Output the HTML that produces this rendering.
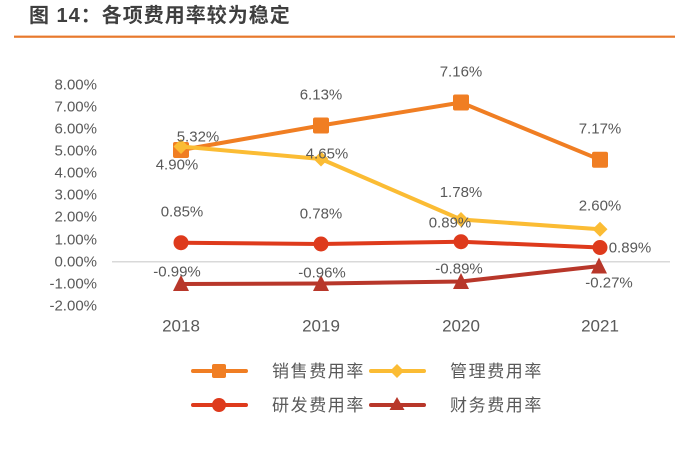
<!DOCTYPE html>
<html>
<head>
<meta charset="utf-8">
<style>
  html,body{margin:0;padding:0;background:#fff;}
  body{width:697px;height:453px;overflow:hidden;}
  svg{display:block;}
  .ax{font-family:"Liberation Sans","Noto Sans CJK SC",sans-serif;font-size:15px;fill:#595959;}
  .cat{font-family:"Liberation Sans","Noto Sans CJK SC",sans-serif;font-size:17px;fill:#595959;}
  .lg{font-family:"Liberation Sans","Noto Sans CJK SC",sans-serif;font-size:17px;fill:#595959;letter-spacing:1.6px;}
  .tt{font-family:"Liberation Sans","Noto Sans CJK SC",sans-serif;font-size:20px;font-weight:bold;fill:#3f3f3f;letter-spacing:1px;}
</style>
</head>
<body>
<svg width="697" height="453" viewBox="0 0 697 453" xmlns="http://www.w3.org/2000/svg">
  <!-- title -->
  <text class="tt" x="29" y="22">图 14：各项费用率较为稳定</text>
  <rect x="14" y="35.6" width="661" height="2.2" fill="#E8792C"/>

  <!-- y axis labels -->
  <g class="ax" text-anchor="end" dominant-baseline="central">
    <text x="97" y="85">8.00%</text>
    <text x="97" y="107">7.00%</text>
    <text x="97" y="129">6.00%</text>
    <text x="97" y="151">5.00%</text>
    <text x="97" y="173">4.00%</text>
    <text x="97" y="195">3.00%</text>
    <text x="97" y="217">2.00%</text>
    <text x="97" y="240">1.00%</text>
    <text x="97" y="262">0.00%</text>
    <text x="97" y="284">-1.00%</text>
    <text x="97" y="306">-2.00%</text>
  </g>

  <!-- zero axis -->
  <line x1="112" y1="261.7" x2="670" y2="261.7" stroke="#D9D9D9" stroke-width="1.5"/>

  <!-- category labels -->
  <g class="cat" text-anchor="middle" dominant-baseline="central">
    <text x="181" y="326">2018</text>
    <text x="321" y="326">2019</text>
    <text x="461" y="326">2020</text>
    <text x="600" y="326">2021</text>
  </g>

  <!-- orange series -->
  <polyline points="181,150 321,125.5 461,102.5 600,159.7" fill="none" stroke="#F07E23" stroke-width="4" stroke-linejoin="round"/>
  <g fill="#F07E23">
    <rect x="173" y="142" width="16" height="16" rx="2"/>
    <rect x="313" y="117.5" width="16" height="16" rx="2"/>
    <rect x="453" y="94.5" width="16" height="16" rx="2"/>
    <rect x="592" y="151.7" width="16" height="16" rx="2"/>
  </g>

  <!-- yellow series -->
  <polyline points="181,146.5 321,159 461,219.5 600,229.3" fill="none" stroke="#FBBC34" stroke-width="4" stroke-linejoin="round"/>
  <g fill="#FBBC34">
    <polygon points="181,139 188.5,146.5 181,154 173.5,146.5"/>
    <polygon points="321,151.5 328.5,159 321,166.5 313.5,159"/>
    <polygon points="461,212 468.5,219.5 461,227 453.5,219.5"/>
    <polygon points="600,221.8 607.5,229.3 600,236.8 592.5,229.3"/>
  </g>

  <!-- red series -->
  <polyline points="181,242.7 321,244 461,241.7 600,247.5" fill="none" stroke="#DE3A1C" stroke-width="4" stroke-linejoin="round"/>
  <g fill="#DE3A1C">
    <circle cx="181" cy="242.7" r="7.5"/>
    <circle cx="321" cy="244" r="7.5"/>
    <circle cx="461" cy="241.7" r="7.5"/>
    <circle cx="600" cy="247.5" r="7.5"/>
  </g>

  <!-- dark red series -->
  <polyline points="181,284 321,283.5 461,281.5 600,266" fill="none" stroke="#B8372A" stroke-width="4" stroke-linejoin="round"/>
  <g fill="#B8372A">
    <polygon points="181,275 189,291 173,291"/>
    <polygon points="321,275 329,291 313,291"/>
    <polygon points="461,273 469,289 453,289"/>
    <polygon points="599,257.5 607,273.5 591,273.5"/>
  </g>

  <!-- data labels -->
  <g class="ax" text-anchor="middle" dominant-baseline="central">
    <text x="177" y="165">4.90%</text>
    <text x="198" y="137">5.32%</text>
    <text x="321" y="95">6.13%</text>
    <text x="327" y="154">4.65%</text>
    <text x="182" y="212">0.85%</text>
    <text x="321" y="214">0.78%</text>
    <text x="177" y="272">-0.99%</text>
    <text x="322" y="273">-0.96%</text>
    <text x="461" y="72">7.16%</text>
    <text x="600" y="129">7.17%</text>
    <text x="461" y="192.5">1.78%</text>
    <text x="600" y="206">2.60%</text>
    <text x="450" y="223">0.89%</text>
    <text x="630" y="248">0.89%</text>
    <text x="459" y="269">-0.89%</text>
    <text x="609" y="283">-0.27%</text>
  </g>

  <!-- legend -->
  <g>
    <line x1="193" y1="371" x2="246" y2="371" stroke="#F07E23" stroke-width="4" stroke-linecap="round"/>
    <rect x="212" y="364" width="14" height="14" rx="2" fill="#F07E23"/>
    <text class="lg" x="272" y="377">销售费用率</text>

    <line x1="371" y1="371" x2="424" y2="371" stroke="#FBBC34" stroke-width="4" stroke-linecap="round"/>
    <polygon points="397,364 404,371 397,378 390,371" fill="#FBBC34"/>
    <text class="lg" x="450" y="377">管理费用率</text>

    <line x1="193" y1="405" x2="246" y2="405" stroke="#DE3A1C" stroke-width="4" stroke-linecap="round"/>
    <circle cx="219" cy="405" r="7" fill="#DE3A1C"/>
    <text class="lg" x="272" y="411">研发费用率</text>

    <line x1="371" y1="405" x2="424" y2="405" stroke="#B8372A" stroke-width="4" stroke-linecap="round"/>
    <polygon points="397,397 404.5,410 389.5,410" fill="#B8372A"/>
    <text class="lg" x="450" y="411">财务费用率</text>
  </g>
</svg>
</body>
</html>
